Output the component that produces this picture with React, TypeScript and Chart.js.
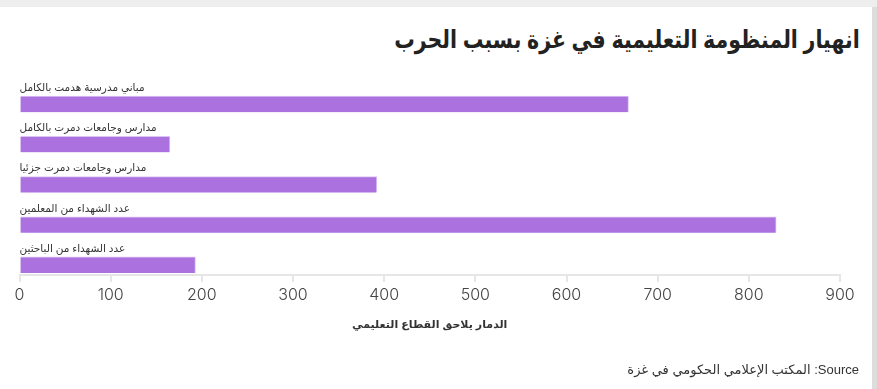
import React, { useEffect, useRef } from "react";
import { Chart, registerables } from "chart.js";

Chart.register(...registerables);

const title = "انهيار المنظومة التعليمية في غزة بسبب الحرب";
const categories = [
  "مباني مدرسية هدمت بالكامل",
  "مدارس وجامعات دمرت بالكامل",
  "مدارس وجامعات دمرت جزئيا",
  "عدد الشهداء من المعلمين",
  "عدد الشهداء من الباحثين",
];
const values = [668, 165, 392, 830, 193];
const xTicks = [0, 100, 200, 300, 400, 500, 600, 700, 800, 900];
const axisTitle = "الدمار يلاحق القطاع التعليمي";
const sourceText = "Source: المكتب الإعلامي الحكومي في غزة";

const W = 877;
const H = 389;
const ARABIC = '"Liberation Sans", Arial, "DejaVu Sans", sans-serif';

export default function App() {
  const ref = useRef<HTMLCanvasElement | null>(null);

  useEffect(() => {
    document.body.style.margin = "0";
    const canvas = ref.current;
    if (!canvas) return;
    const chart = new Chart(canvas, {
      type: "bar",
      data: {
        datasets: [
          {
            data: values.map((v, i) => ({ x: v, y: i })),
            backgroundColor: "#ab72df",
            borderColor: "#dcc3f5",
            borderWidth: { top: 1, right: 1, bottom: 0, left: 0 },
            borderSkipped: "left",
            barThickness: 16,
          },
        ],
      },
      options: {
        indexAxis: "y",
        responsive: false,
        animation: false,
        layout: { padding: { left: 19.5, right: 32, top: 74, bottom: 40 } },
        plugins: { legend: { display: false }, tooltip: { enabled: false }, title: { display: false } },
        scales: {
          y: {
            type: "linear",
            reverse: true,
            offset: false,
            bounds: "data",
            min: -0.75,
            max: 4.25,
            afterBuildTicks: (s: any) => {
              s.ticks = categories.map((_, i) => ({ value: i }));
            },
            afterFit: (s: any) => {
              s.width = 0;
            },
            grid: { display: false, offset: false },
            border: { display: false },
            ticks: {
              mirror: true,
              padding: 0,
              labelOffset: -16,
              color: "#333333",
              font: { family: ARABIC, size: 10.5 },
              callback: (v: any) => {
                const n = Math.round(Number(v));
                return categories[n] ?? "";
              },
            },
          },
          x: {
            type: "linear",
            bounds: "data",
            min: 0,
            max: 900,
            afterBuildTicks: (s: any) => {
              s.ticks = xTicks.map((v) => ({ value: v }));
            },
            afterFit: (s: any) => {
              s.height = 74;
            },
            grid: {
              drawOnChartArea: false,
              drawTicks: true,
              tickLength: 7,
              color: "#e6e6e6",
              lineWidth: 2,
            },
            border: { display: true, color: "#e6e6e6", width: 2 },
            ticks: {
              color: "#444444",
              padding: 4,
              maxRotation: 0,
              font: { family: "Inter", size: 16, weight: 300 },
            },
            title: {
              display: true,
              text: axisTitle,
              color: "#333333",
              font: { family: ARABIC, size: 11, weight: "bold" },
              padding: { top: 13, bottom: 17 },
            },
          },
        },
      },
    });
    return () => chart.destroy();
  }, []);

  return (
    <div style={{ position: "relative", width: W, height: H, background: "#ffffff", overflow: "hidden" }}>
      <div style={{ position: "absolute", left: 0, top: 0, width: W, height: 7, background: "#eeeeee" }} />
      <div style={{ position: "absolute", right: 0, top: 7, width: 5, height: H - 7, background: "#dddddd" }} />
      <div
        dir="rtl"
        style={{
          position: "absolute",
          right: 17,
          top: 22,
          fontFamily: ARABIC,
          fontWeight: "bold",
          fontSize: 25,
          color: "#222222",
          whiteSpace: "nowrap",
          lineHeight: "34px",
          transform: "scaleX(0.82)",
          transformOrigin: "right center",
        }}
      >
        {title}
      </div>
      <canvas ref={ref} width={872} height={H} style={{ position: "absolute", left: 0, top: 0 }} />
      <div
        dir="rtl"
        style={{
          position: "absolute",
          right: 18,
          top: 361,
          fontFamily: ARABIC,
          fontSize: 13,
          color: "#333333",
          whiteSpace: "nowrap",
          lineHeight: "18px",
        }}
      >
        {sourceText}
      </div>
    </div>
  );
}
